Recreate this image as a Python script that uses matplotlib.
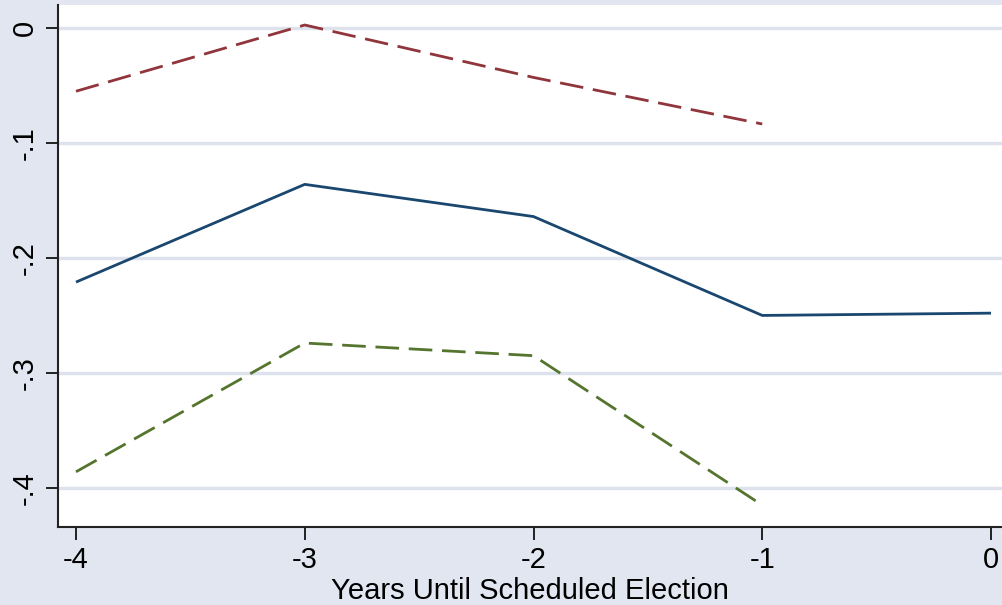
import matplotlib.pyplot as plt

years = [-4, -3, -2, -1, 0]
estimate = [-0.221, -0.136, -0.164, -0.250, -0.248]
upper_years = [-4, -3, -2, -1]
upper = [-0.055, 0.0026, -0.043, -0.0835]
lower = [-0.386, -0.274, -0.285, -0.415]

xticks = [-4, -3, -2, -1, 0]
xtick_labels = ['-4', '-3', '-2', '-1', '0']
yticks = [0, -0.1, -0.2, -0.3, -0.4]
ytick_labels = ['0', '-.1', '-.2', '-.3', '-.4']

bg = '#E1E6F0'
plt.rcParams['font.family'] = ['Liberation Sans', 'DejaVu Sans']

fig = plt.figure(figsize=(10.02, 6.05), dpi=100, facecolor=bg)
ax = fig.add_axes([58 / 1002, 1 - 527 / 605, 1 - 58 / 1002, (527 - 5) / 605])
ax.set_facecolor('white')

ax.plot(years, estimate, color='#1a476f', lw=2.0, solid_capstyle='butt')
ax.plot(upper_years, upper, color='#90353b', lw=2.0, dashes=(8.5, 3.5), dash_capstyle='butt')
ax.plot(upper_years, lower, color='#55752f', lw=2.0, dashes=(8.5, 3.5), dash_capstyle='butt')

ax.set_xlim(-4.0786, 0.048)
ax.set_ylim(-0.434, 0.02)
ax.set_xticks(xticks)
ax.set_xticklabels(xtick_labels)
ax.set_yticks(yticks)
ax.set_yticklabels(ytick_labels, rotation=90, va='center')
ax.tick_params(labelsize=21, length=9, width=1.2, color='black', pad=5)
ax.grid(axis='y', color='#DDE2EC', lw=2.5)
ax.set_axisbelow(True)
for s in ['top', 'right']:
    ax.spines[s].set_visible(False)
for s in ['left', 'bottom']:
    ax.spines[s].set_linewidth(1.5)
    ax.spines[s].set_color('#222222')

ax.set_xlabel('Years Until Scheduled Election', fontsize=21, labelpad=2)

fig.savefig('out.png', dpi=100, facecolor=bg)
